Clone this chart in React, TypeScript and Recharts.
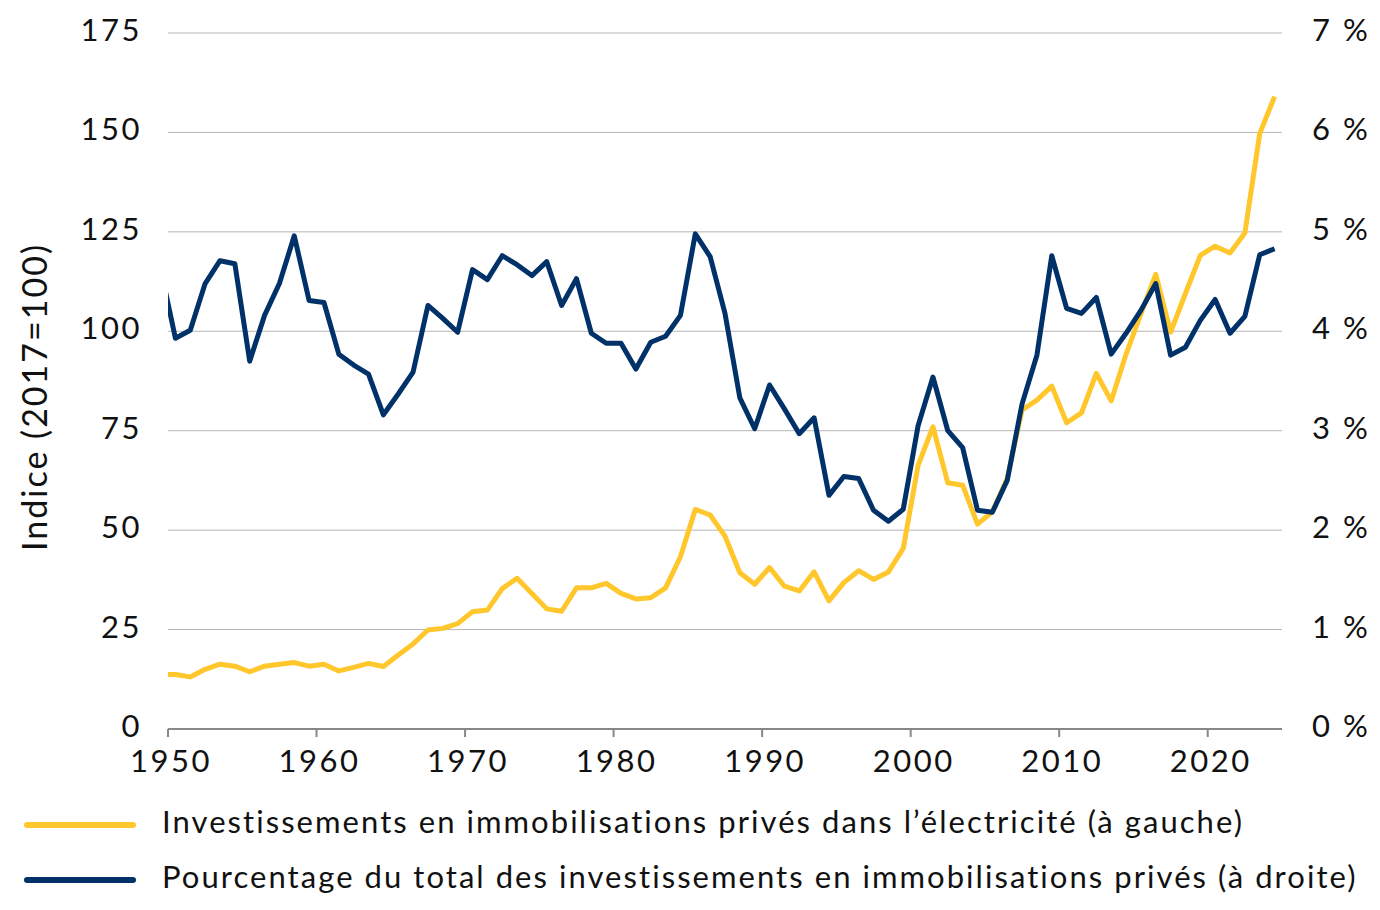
import React from "react";
import { LineChart, Line, CartesianGrid, XAxis, YAxis, Legend } from "recharts";

// yearly values, plotted at mid-year (1949 only shows as the stub at the left edge)
const years = [
  1949, 1950, 1951, 1952, 1953, 1954, 1955, 1956, 1957, 1958, 1959,
  1960, 1961, 1962, 1963, 1964, 1965, 1966, 1967, 1968, 1969,
  1970, 1971, 1972, 1973, 1974, 1975, 1976, 1977, 1978, 1979,
  1980, 1981, 1982, 1983, 1984, 1985, 1986, 1987, 1988, 1989,
  1990, 1991, 1992, 1993, 1994, 1995, 1996, 1997, 1998, 1999,
  2000, 2001, 2002, 2003, 2004, 2005, 2006, 2007, 2008, 2009,
  2010, 2011, 2012, 2013, 2014, 2015, 2016, 2017, 2018, 2019,
  2020, 2021, 2022, 2023, 2024,
];

// private fixed investment in electricity, index 2017=100 (left axis)
const electricity = [
  13.7, 13.7, 13.1, 15.0, 16.3, 15.8, 14.4, 15.8, 16.3, 16.7, 15.8,
  16.3, 14.6, 15.5, 16.5, 15.7, 18.6, 21.4, 24.9, 25.3, 26.5,
  29.5, 29.9, 35.3, 37.9, 34.1, 30.2, 29.6, 35.5, 35.5, 36.6,
  34.1, 32.7, 33.0, 35.5, 43.3, 55.2, 53.8, 48.5, 39.3, 36.4,
  40.6, 35.9, 34.7, 39.5, 32.2, 36.8, 39.8, 37.6, 39.5, 45.4,
  66.3, 76.0, 61.9, 61.3, 51.5, 54.6, 63.0, 80.2, 82.7, 86.2,
  77.0, 79.5, 89.4, 82.5, 94.2, 104.4, 114.3, 99.8, 109.5, 119.1,
  121.4, 119.7, 124.7, 149.7, 159.0,
];

// share of total private fixed investment, % (right axis)
const share = [
  4.63, 3.93, 4.01, 4.48, 4.71, 4.68, 3.70, 4.16, 4.48, 4.96, 4.31,
  4.29, 3.77, 3.66, 3.57, 3.16, 3.37, 3.59, 4.26, 4.13, 3.99,
  4.62, 4.52, 4.76, 4.67, 4.56, 4.70, 4.26, 4.53, 3.98, 3.88,
  3.88, 3.62, 3.89, 3.95, 4.16, 4.98, 4.75, 4.18, 3.33, 3.02,
  3.46, 3.22, 2.97, 3.13, 2.35, 2.54, 2.52, 2.20, 2.09, 2.21,
  3.05, 3.54, 3.00, 2.83, 2.20, 2.18, 2.50, 3.27, 3.76, 4.76,
  4.23, 4.18, 4.34, 3.77, 3.98, 4.21, 4.48, 3.76, 3.84, 4.11,
  4.32, 3.98, 4.15, 4.77, 4.83,
];

const xTicks = [1950, 1960, 1970, 1980, 1990, 2000, 2010, 2020];
const leftTicks = [0, 25, 50, 75, 100, 125, 150, 175];
const rightTicks = [0, 1, 2, 3, 4, 5, 6, 7];

const seriesNames = {
  electricity:
    "Investissements en immobilisations privés dans l’électricité (à gauche)",
  share:
    "Pourcentage du total des investissements en immobilisations privés (à droite)",
};

const YELLOW = "#FFC72C";
const NAVY = "#003168";
const FONT = "Lato, 'Open Sans', sans-serif";

const data = years.map((y, i) => ({
  x: y + 0.5,
  electricity: electricity[i],
  share: share[i],
}));

const tickStyle = {
  fontSize: 31,
  fill: "#111",
  fontFamily: FONT,
  letterSpacing: 2.5,
};

function AxisTitle() {
  return (
    <text
      x={25}
      y={389}
      transform="rotate(-90, 25, 389)"
      textAnchor="middle"
      dominantBaseline="central"
      fontSize={34}
      fontFamily={FONT}
      letterSpacing={2}
      fill="#111"
    >
      Indice (2017=100)
    </text>
  );
}

function LegendBox() {
  const rows = [
    { color: YELLOW, label: seriesNames.electricity, y: 27 },
    { color: NAVY, label: seriesNames.share, y: 82 },
  ];
  return (
    <svg width={1364} height={110}>
      {rows.map((r) => (
        <g key={r.label}>
          <line
            x1={19}
            x2={125}
            y1={r.y}
            y2={r.y}
            stroke={r.color}
            strokeWidth={6}
            strokeLinecap="round"
          />
          <text
            x={154}
            y={r.y - 4}
            dominantBaseline="central"
            fontSize={31}
            fontFamily={FONT}
            letterSpacing={2.05}
            fill="#111"
          >
            {r.label}
          </text>
        </g>
      ))}
    </svg>
  );
}

export default function App() {
  return (
    <LineChart
      width={1364}
      height={894}
      data={data}
      margin={{ top: 25, right: 0, bottom: 0, left: 0 }}
    >
      <CartesianGrid vertical={false} stroke="#b5b5b5" strokeWidth={1} yAxisId="left" />
      <XAxis
        dataKey="x"
        type="number"
        domain={[1950, 2025]}
        ticks={xTicks}
        allowDataOverflow
        height={173}
        tick={{ ...tickStyle, dx: 3 }}
        tickSize={8}
        tickMargin={13}
        stroke="#888"
        strokeWidth={2}
      />
      <YAxis
        yAxisId="left"
        domain={[0, 175]}
        ticks={leftTicks}
        width={160}
        axisLine={false}
        tickLine={false}
        tickSize={0}
        tickMargin={26}
        tick={{ ...tickStyle, dy: -3 }}
        label={<AxisTitle />}
      />
      <YAxis
        yAxisId="right"
        orientation="right"
        domain={[0, 7]}
        ticks={rightTicks}
        width={90}
        axisLine={false}
        tickLine={false}
        tickSize={0}
        tickMargin={30}
        tick={{ ...tickStyle, textAnchor: "start", dy: -3 }}
        tickFormatter={(v: number) => `${v} %`}
      />
      <Line
        yAxisId="left"
        dataKey="electricity"
        name={seriesNames.electricity}
        stroke={YELLOW}
        strokeWidth={5}
        dot={false}
        activeDot={false}
        strokeLinejoin="round"
        isAnimationActive={false}
      />
      <Line
        yAxisId="right"
        dataKey="share"
        name={seriesNames.share}
        stroke={NAVY}
        strokeWidth={5}
        dot={false}
        activeDot={false}
        strokeLinejoin="round"
        isAnimationActive={false}
      />
      <Legend
        layout="vertical"
        align="center"
        verticalAlign="middle"
        wrapperStyle={{ left: 0, top: 790, width: 1364 }}
        content={<LegendBox />}
      />
    </LineChart>
  );
}
